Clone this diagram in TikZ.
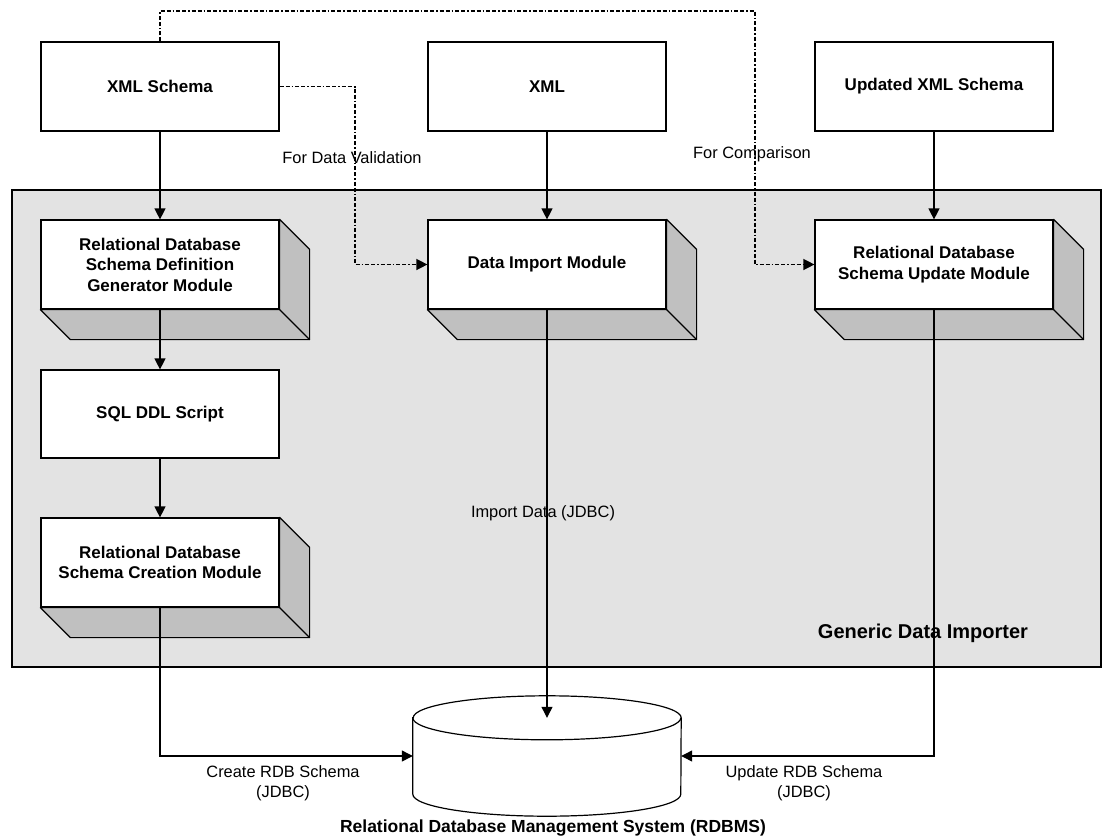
\documentclass[tikz,border=0pt]{standalone}
\usepackage{fontspec}
\setmainfont{Liberation Sans}
\usetikzlibrary{arrows.meta}

\definecolor{gdigray}{RGB}{227,227,227}
\definecolor{sidegray}{RGB}{192,192,192}

\tikzset{
  box/.style={draw, fill=white, line width=1.2pt, minimum width=238pt, minimum height=89pt, inner sep=2pt, align=center, font=\fontsize{17}{20.5}\selectfont\bfseries},
  lbl/.style={inner sep=0pt, align=center, font=\fontsize{16.4}{20}\selectfont},
  flow/.style={line width=1.2pt, -{Triangle[length=11pt,width=11pt]}},
  ref/.style={flow, line width=1.4pt, dash pattern=on 4pt off 2pt on 4pt off 2pt on 1.5pt off 2pt},
}
% depth faces of a module box
\newcommand{\moddepth}[1]{%
  \filldraw[fill=sidegray, line width=1.2pt, line join=round] (#1.north east) -- ++(30,-30) -- ([shift={(30,-30)}]#1.south east) -- ([shift={(30,-30)}]#1.south west) -- (#1.south west) -- (#1.south east) -- cycle;
  \draw[line width=1.2pt] (#1.south east) -- ++(30,-30);
}

\begin{document}
\begin{tikzpicture}[x=1pt,y=1pt]
\useasboundingbox (0,0) rectangle (1104,-838);

 %Generic Data Importer
 \draw[fill=gdigray, line width=1.2pt] (12,-190) rectangle (1101,-667);
 \node[font=\fontsize{20}{24}\selectfont\bfseries] (gdi) at (923,-633) {Generic Data Importer};

 %inputs
 \node[box] (xsd) at (160,-86.5) {XML Schema};
 \node[box] (xml) at (547,-86.5) {XML};
 \node[box] (upd) at (934,-86.5) {Updated XML Schema};

 %modules
 \node[box] (gen) at (160,-264.5) {Relational Database\\Schema Definition\\Generator Module};
 \moddepth{gen}
 \node[box] (imp) at (547,-264.5) {Data Import Module};
 \moddepth{imp}
 \node[box] (updmod) at (934,-264.5) {Relational Database\\Schema Update Module};
 \moddepth{updmod}
 \node[box, minimum height=88pt] (sql) at (160,-414) {SQL DDL Script};
 \node[box] (cre) at (160,-562.5) {Relational Database\\Schema Creation Module};
 \moddepth{cre}

 %RDBMS
 \node[minimum width=268pt, minimum height=76pt, inner sep=0pt] (db) at (547,-756) {};
 \filldraw[fill=white, line width=1.2pt] (db.north west) -- (db.south west) arc[start angle=180, end angle=360, x radius=134, y radius=22] -- (db.north east) arc[start angle=0, end angle=180, x radius=134, y radius=22] -- cycle;
 \draw[line width=1.2pt] (db.north west) arc[start angle=180, end angle=360, x radius=134, y radius=22];
 \node[font=\fontsize{17.5}{20}\selectfont\bfseries, inner sep=0pt] (dbname) at (553,-828) {Relational Database Management System (RDBMS)};

 %connectors
 \draw[flow] (xsd) -- (gen);
 \draw[flow] (xml) -- (imp);
 \draw[flow] (upd) -- (updmod);
 \draw[flow] (gen) -- (sql);
 \draw[flow] (sql) -- (cre);
 \draw[flow] (imp.south) -- (db.north);
 \draw[flow] (cre.south) |- (db.west);
 \draw[flow] (updmod.south) |- (db.east);

 %dotted references
 \coordinate (valbend) at (355,-86.5);
 \coordinate (cmpbend) at (755,-11);
 \draw[ref] (xsd.east) -- (valbend) |- (imp.west);
 \draw[ref] (xsd.north) |- (cmpbend) |- (updmod.west);

 %labels
 \node[lbl] (valtxt) at (352,-158) {For Data Validation};
 \node[lbl] (cmptxt) at (752,-154) {For Comparison};
 \node[lbl] (imptxt) at (543,-513) {Import Data (JDBC)};
 \node[lbl] (cretxt) at (283,-783) {Create RDB Schema\\(JDBC)};
 \node[lbl] (updtxt) at (804,-783) {Update RDB Schema\\(JDBC)};
\end{tikzpicture}
\end{document}
